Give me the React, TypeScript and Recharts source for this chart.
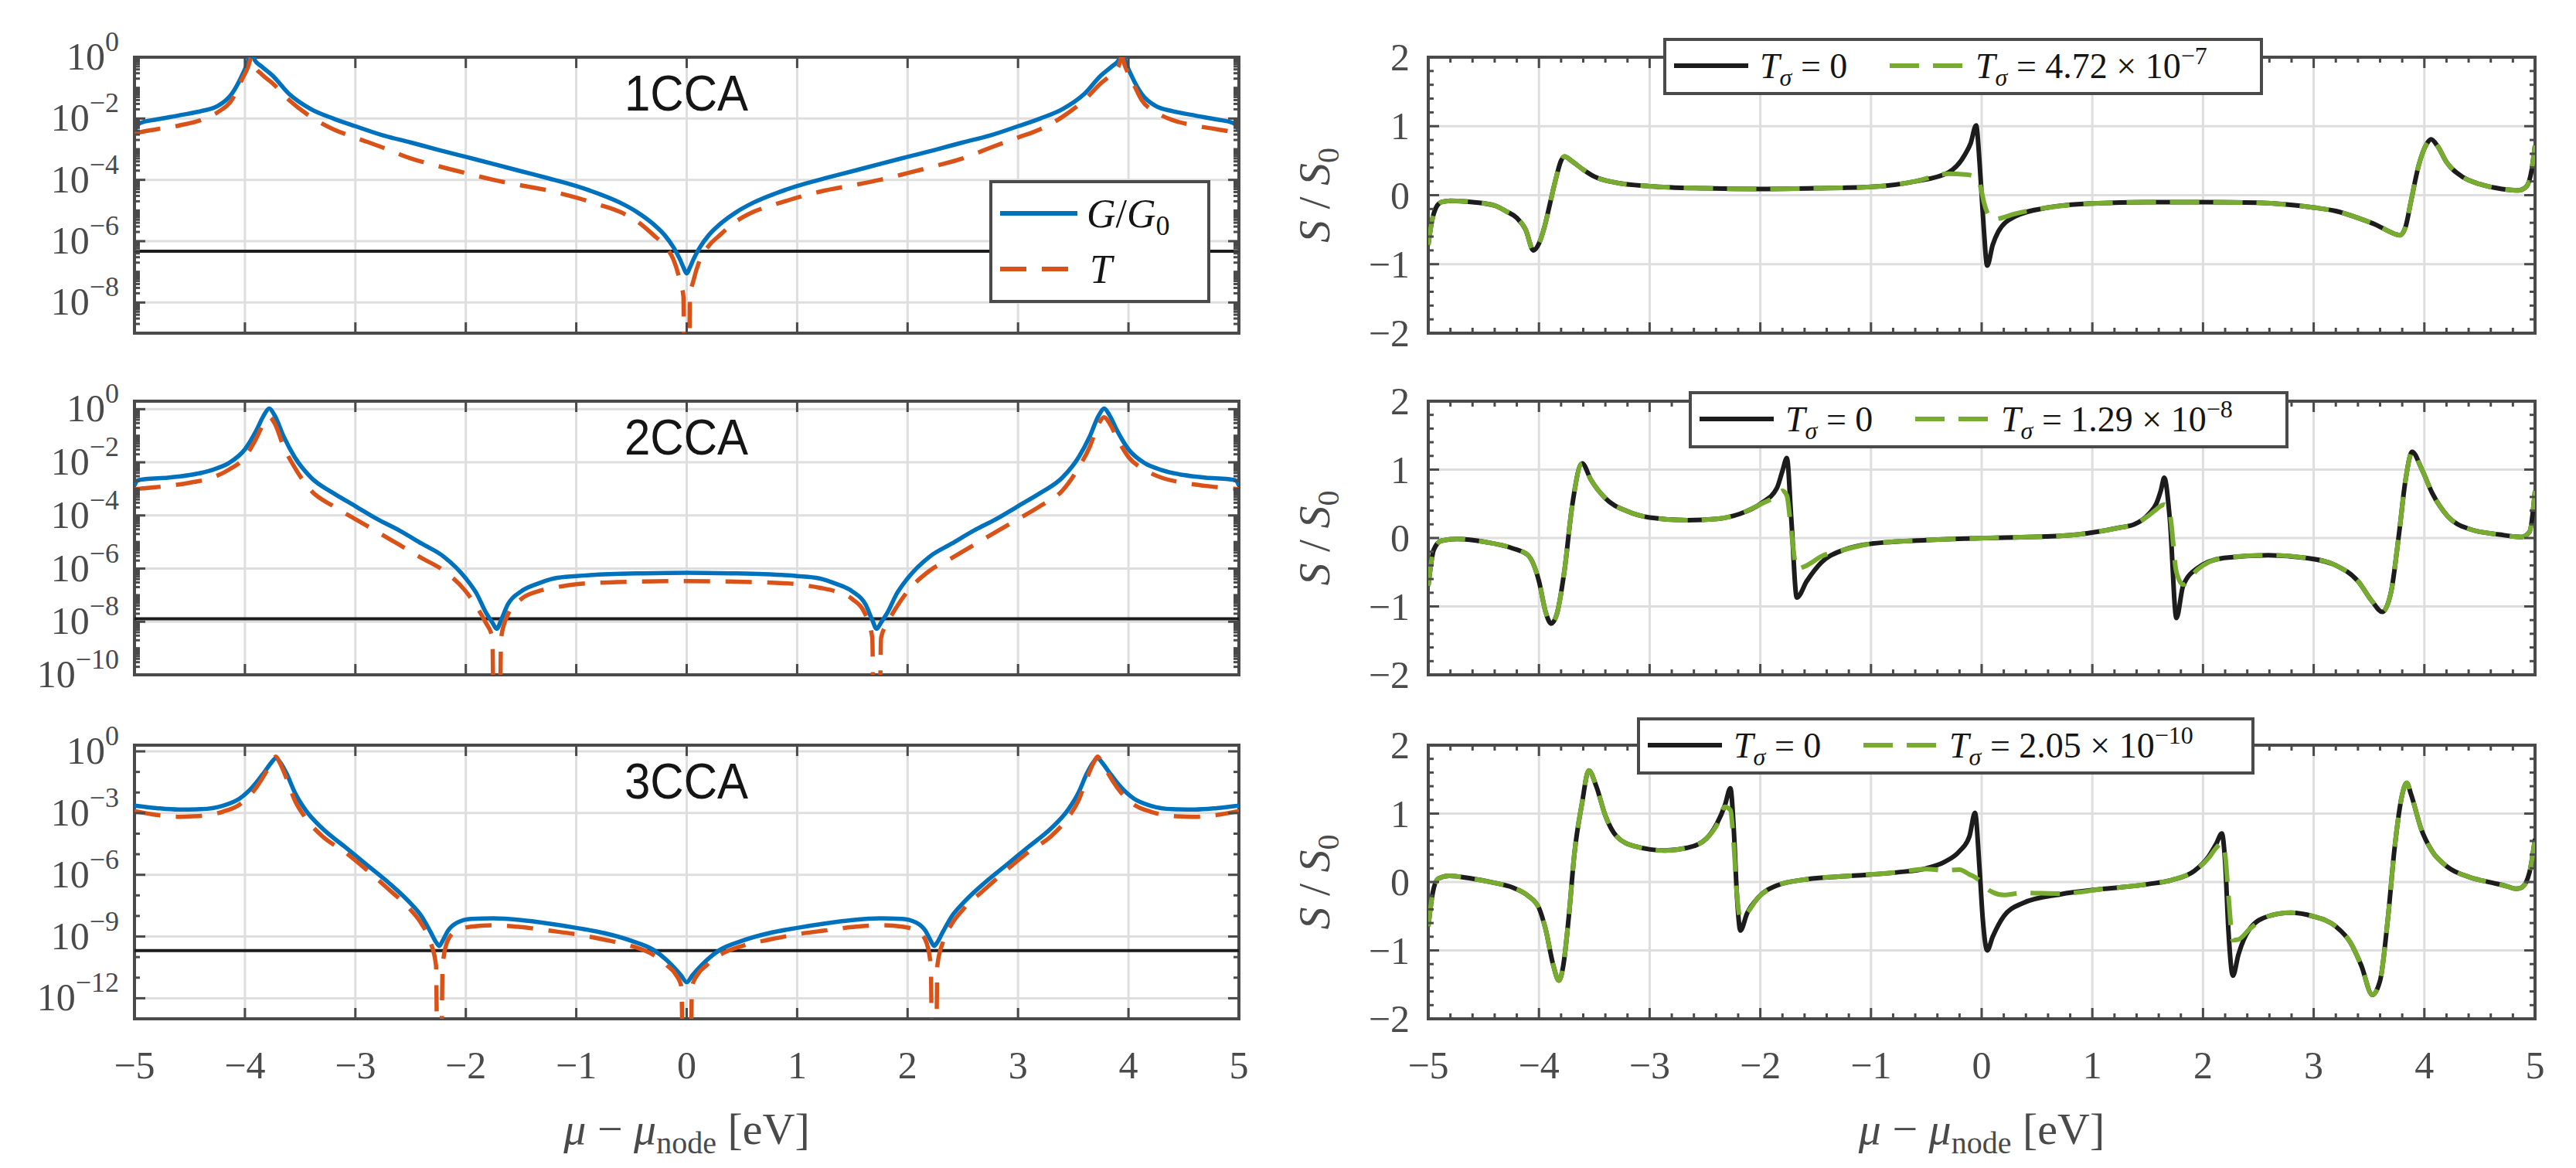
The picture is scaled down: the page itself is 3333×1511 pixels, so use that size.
import React from 'react';
import { LineChart, Line, XAxis, YAxis, CartesianGrid, ReferenceLine, ReferenceArea, Legend } from 'recharts';

// ---------------- data ----------------
const X_MAJOR = [-5, -4, -3, -2, -1, 0, 1, 2, 3, 4, 5];
const X_TICK_LABELS = ['\u22125', '\u22124', '\u22123', '\u22122', '\u22121', '0', '1', '2', '3', '4', '5'];
const S_MAJOR = [-2, -1, 0, 1, 2];
const S_TICK_LABELS = ['\u22122', '\u22121', '0', '1', '2'];

// row 1 : 1CCA
const x1 = [-5, -4.95, -4.8, -4.6, -4.4, -4.25, -4.12, -4.03, -3.97, -3.94, -3.91, -3.85, -3.75, -3.6, -3.4, -3.2, -3, -2.75, -2.5, -2.25, -2, -1.75, -1.5, -1.25, -1, -0.8, -0.6, -0.45, -0.3, -0.2, -0.12, -0.06, -0.03,
  0,
  0.03, 0.06, 0.12, 0.2, 0.3, 0.45, 0.6, 0.8, 1, 1.25, 1.5, 1.75, 2, 2.25, 2.5, 2.75, 3, 3.2, 3.4, 3.6, 3.75, 3.85, 3.91, 3.94, 3.97, 4.03, 4.12, 4.25, 4.4, 4.6, 4.8, 4.95, 5];
const g1 = [3.98e-3, 7.08e-3, 9.33e-3, 1.26e-2, 1.74e-2, 2.51e-2, 6.31e-2, 0.24, 0.794, 2.24, 0.794, 0.501, 0.251, 6.31e-2, 2.0e-2, 1.0e-2, 5.62e-3, 2.82e-3, 1.66e-3, 9.55e-4, 5.62e-4, 3.31e-4, 1.91e-4, 1.12e-4, 6.31e-5, 3.55e-5, 1.78e-5, 8.91e-6, 3.55e-6, 1.58e-6, 6.31e-7, 2.51e-7, 1.41e-7,
  8.91e-8,
  1.41e-7, 2.51e-7, 6.31e-7, 1.58e-6, 3.55e-6, 8.91e-6, 1.78e-5, 3.55e-5, 6.31e-5, 1.12e-4, 1.91e-4, 3.31e-4, 5.62e-4, 9.55e-4, 1.66e-3, 2.82e-3, 5.62e-3, 1.0e-2, 2.0e-2, 6.31e-2, 0.251, 0.501, 0.794, 2.24, 0.794, 0.24, 6.31e-2, 2.51e-2, 1.74e-2, 1.26e-2, 9.33e-3, 7.08e-3, 3.98e-3];
const t1 = [3.16e-3, 3.55e-3, 4.47e-3, 5.89e-3, 8.91e-3, 1.58e-2, 3.98e-2, 0.178, 0.501, 1.0, 0.501, 0.282, 0.141, 3.98e-2, 1.12e-2, 4.47e-3, 2.4e-3, 1.12e-3, 5.01e-4, 2.82e-4, 1.66e-4, 1.0e-4, 6.61e-5, 4.47e-5, 2.63e-5, 1.58e-5, 8.91e-6, 4.47e-6, 1.58e-6, 7.08e-7, 2.51e-7, 5.01e-8, 1.58e-8,
  1e-30,
  1.58e-8, 5.01e-8, 2.51e-7, 7.08e-7, 1.58e-6, 4.47e-6, 8.91e-6, 1.58e-5, 2.63e-5, 4.47e-5, 6.61e-5, 1.0e-4, 1.66e-4, 2.82e-4, 5.01e-4, 1.12e-3, 2.4e-3, 4.47e-3, 1.12e-2, 3.98e-2, 0.141, 0.282, 0.501, 1.0, 0.501, 0.178, 3.98e-2, 1.58e-2, 8.91e-3, 5.89e-3, 4.47e-3, 3.55e-3, 3.16e-3];

// row 2 : 2CCA
const x2 = [-5, -4.97, -4.9, -4.7, -4.5, -4.3, -4.15, -4.0, -3.9, -3.83, -3.78, -3.73, -3.65, -3.55, -3.4, -3.2, -3.0, -2.8, -2.6, -2.4, -2.2, -2.0, -1.9, -1.82, -1.76, -1.72, -1.68, -1.62, -1.5, -1.35, -1.2, -1.0, -0.7, -0.4,
  0,
  0.4, 0.7, 1.0, 1.2, 1.35, 1.5, 1.62, 1.68, 1.72, 1.76, 1.82, 1.9, 2.0, 2.2, 2.4, 2.6, 2.8, 3.0, 3.2, 3.4, 3.55, 3.65, 3.73, 3.78, 3.83, 3.9, 4.0, 4.15, 4.3, 4.5, 4.7, 4.9, 4.97, 5];
const g2 = [1.35e-3, 2.09e-3, 2.34e-3, 2.63e-3, 3.31e-3, 5.13e-3, 9.12e-3, 3.09e-2, 0.148, 0.575, 1.05, 0.575, 9.55e-2, 1.58e-2, 2.63e-3, 6.92e-4, 2.24e-4, 7.24e-5, 2.69e-5, 8.71e-6, 2.82e-6, 4.27e-7, 1.1e-7, 2.29e-8, 9.33e-9, 5.37e-9, 1.17e-8, 4.47e-8, 1.38e-7, 2.69e-7, 4.27e-7, 5.25e-7, 6.17e-7, 6.61e-7,
  6.92e-7,
  6.61e-7, 6.17e-7, 5.25e-7, 4.27e-7, 2.69e-7, 1.38e-7, 4.47e-8, 1.17e-8, 5.37e-9, 9.33e-9, 2.29e-8, 1.1e-7, 4.27e-7, 2.82e-6, 8.71e-6, 2.69e-5, 7.24e-5, 2.24e-4, 6.92e-4, 2.63e-3, 1.58e-2, 9.55e-2, 0.575, 1.05, 0.575, 0.148, 3.09e-2, 9.12e-3, 5.13e-3, 3.31e-3, 2.63e-3, 2.34e-3, 2.09e-3, 1.35e-3];
const t2 = [9.55e-4, 1.0e-3, 1.07e-3, 1.29e-3, 1.7e-3, 2.63e-3, 5.13e-3, 1.58e-2, 7.59e-2, 0.288, 0.5, 0.288, 3.89e-2, 6.46e-3, 8.51e-4, 2.24e-4, 7.24e-5, 2.4e-5, 7.76e-6, 2.51e-6, 8.32e-7, 1.38e-7, 3.55e-8, 9.33e-9, 2.51e-9, 1e-30, 2.51e-9, 1.82e-8, 7.08e-8, 1.38e-7, 1.91e-7, 2.57e-7, 3.02e-7, 3.24e-7,
  3.39e-7,
  3.24e-7, 3.02e-7, 2.57e-7, 1.91e-7, 1.38e-7, 7.08e-8, 1.82e-8, 2.51e-9, 1e-30, 2.51e-9, 9.33e-9, 3.55e-8, 1.38e-7, 8.32e-7, 2.51e-6, 7.76e-6, 2.4e-5, 7.24e-5, 2.24e-4, 8.51e-4, 6.46e-3, 3.89e-2, 0.288, 0.5, 0.288, 7.59e-2, 1.58e-2, 5.13e-3, 2.63e-3, 1.7e-3, 1.29e-3, 1.07e-3, 1.0e-3, 9.55e-4];

// row 3 : 3CCA
const x3 = [-5, -4.8, -4.6, -4.4, -4.2, -4.05, -3.92, -3.82, -3.76, -3.72, -3.68, -3.62, -3.55, -3.45, -3.3, -3.1, -2.9, -2.7, -2.5, -2.4, -2.32, -2.27, -2.24, -2.21, -2.16, -2.08, -1.95, -1.75, -1.5, -1.25, -1.0, -0.75, -0.5, -0.3, -0.18, -0.1, -0.05,
  0,
  0.05, 0.1, 0.18, 0.3, 0.5, 0.75, 1.0, 1.25, 1.5, 1.75, 1.95, 2.08, 2.16, 2.21, 2.24, 2.27, 2.32, 2.4, 2.5, 2.7, 2.9, 3.1, 3.3, 3.45, 3.55, 3.62, 3.68, 3.72, 3.76, 3.82, 3.92, 4.05, 4.2, 4.4, 4.6, 4.8, 5];
const g3 = [2.29e-3, 1.74e-3, 1.48e-3, 1.55e-3, 2.29e-3, 5.01e-3, 2.14e-2, 0.105, 0.288, 0.468, 0.288, 7.76e-2, 1.05e-2, 1.38e-3, 1.82e-4, 2.4e-5, 3.16e-6, 4.17e-7, 4.07e-8, 9.55e-9, 1.7e-9, 5.37e-10, 3.47e-10, 6.17e-10, 1.95e-9, 4.68e-9, 7.24e-9, 7.59e-9, 6.31e-9, 4.27e-9, 2.63e-9, 1.48e-9, 6.17e-10, 2.24e-10, 7.08e-11, 2.57e-11, 1.26e-11,
  6.03e-12,
  1.26e-11, 2.57e-11, 7.08e-11, 2.24e-10, 6.17e-10, 1.48e-9, 2.63e-9, 4.27e-9, 6.31e-9, 7.59e-9, 7.24e-9, 4.68e-9, 1.95e-9, 6.17e-10, 3.47e-10, 5.37e-10, 1.7e-9, 9.55e-9, 4.07e-8, 4.17e-7, 3.16e-6, 2.4e-5, 1.82e-4, 1.38e-3, 1.05e-2, 7.76e-2, 0.288, 0.468, 0.288, 0.105, 2.14e-2, 5.01e-3, 2.29e-3, 1.55e-3, 1.48e-3, 1.74e-3, 2.29e-3];
const t3 = [1.26e-3, 8.13e-4, 6.61e-4, 7.24e-4, 1.17e-3, 2.57e-3, 1.2e-2, 7.76e-2, 0.288, 0.562, 0.251, 4.37e-2, 4.37e-3, 5.75e-4, 7.59e-5, 1.35e-5, 1.78e-6, 2.0e-7, 2.0e-8, 4.07e-9, 5.37e-10, 3.98e-11, 1e-30, 3.98e-11, 7.08e-10, 1.95e-9, 3.02e-9, 3.55e-9, 2.88e-9, 1.95e-9, 1.29e-9, 7.08e-10, 3.47e-10, 1.26e-10, 3.98e-11, 1.45e-11, 3.98e-12,
  1e-30,
  3.98e-12, 1.45e-11, 3.98e-11, 1.26e-10, 3.47e-10, 7.08e-10, 1.29e-9, 1.95e-9, 2.88e-9, 3.55e-9, 3.02e-9, 1.95e-9, 7.08e-10, 3.98e-11, 1e-30, 3.98e-11, 5.37e-10, 4.07e-9, 2.0e-8, 2.0e-7, 1.78e-6, 1.35e-5, 7.59e-5, 5.75e-4, 4.37e-3, 4.37e-2, 0.251, 0.562, 0.288, 7.76e-2, 1.2e-2, 2.57e-3, 1.17e-3, 7.24e-4, 6.61e-4, 8.13e-4, 1.26e-3];

// right column: thermopower S/S0
const xr1 = [-5, -4.97, -4.93, -4.88, -4.8, -4.6, -4.4, -4.3, -4.2, -4.12, -4.05, -4.0, -3.95, -3.9, -3.85, -3.8, -3.77, -3.7, -3.6, -3.5, -3.3, -3.0, -2.5, -2.0, -1.5, -1.0, -0.6, -0.3, -0.15, -0.1, -0.05, -0.02, 0.0, 0.02, 0.05, 0.1, 0.15, 0.3, 0.6, 1.0, 1.5, 2.0, 2.5, 3.0, 3.2, 3.4, 3.55, 3.65, 3.73, 3.78, 3.83, 3.88, 3.95, 4.02, 4.06, 4.12, 4.2, 4.35, 4.5, 4.7, 4.85, 4.92, 4.97, 5.0];
const s0r1 = [-0.72, -0.4, -0.18, -0.1, -0.08, -0.1, -0.15, -0.23, -0.33, -0.5, -0.8, -0.7, -0.46, -0.12, 0.22, 0.5, 0.56, 0.49, 0.37, 0.27, 0.18, 0.13, 0.1, 0.09, 0.1, 0.12, 0.2, 0.33, 0.59, 0.75, 1.01, 0.5, 0.0, -0.5, -1.02, -0.72, -0.53, -0.31, -0.18, -0.12, -0.1, -0.1, -0.11, -0.18, -0.23, -0.33, -0.42, -0.5, -0.56, -0.58, -0.46, -0.08, 0.44, 0.74, 0.81, 0.71, 0.48, 0.26, 0.16, 0.09, 0.07, 0.12, 0.37, 0.72];
const ssr1 = [-0.72, -0.4, -0.18, -0.1, -0.08, -0.1, -0.15, -0.23, -0.33, -0.5, -0.8, -0.7, -0.46, -0.12, 0.22, 0.5, 0.56, 0.49, 0.37, 0.27, 0.18, 0.13, 0.1, 0.09, 0.1, 0.12, 0.2, 0.31, 0.3, 0.29, 0.26, 0.18, 0.05, -0.1, -0.25, -0.35, -0.34, -0.27, -0.18, -0.12, -0.1, -0.1, -0.11, -0.18, -0.23, -0.33, -0.42, -0.5, -0.56, -0.58, -0.46, -0.08, 0.44, 0.74, 0.81, 0.71, 0.48, 0.26, 0.16, 0.09, 0.07, 0.12, 0.37, 0.72];

const xr2 = [-5, -4.95, -4.88, -4.74, -4.48, -4.24, -4.1, -4.0, -3.94, -3.89, -3.84, -3.77, -3.7, -3.61, -3.53, -3.4, -3.2, -3.0, -2.66, -2.39, -2.19, -1.99, -1.85, -1.8, -1.76, -1.72, -1.67, -1.58, -1.45, -1.24, -0.98, -0.5, 0.03, 0.71, 1.04, 1.24, 1.38, 1.51, 1.58, 1.62, 1.65, 1.7, 1.76, 1.82, 1.95, 2.19, 2.59, 2.93, 3.2, 3.4, 3.53, 3.62, 3.7, 3.77, 3.83, 3.89, 3.97, 4.07, 4.21, 4.41, 4.68, 4.88, 4.95, 5];
const s0r2 = [-0.7, -0.17, -0.04, -0.015, -0.06, -0.15, -0.25, -0.63, -1.08, -1.25, -1.12, -0.48, 0.47, 1.09, 0.85, 0.58, 0.39, 0.3, 0.26, 0.28, 0.35, 0.51, 0.73, 0.98, 1.17, 0.28, -0.87, -0.63, -0.36, -0.17, -0.08, -0.03, 0.0, 0.03, 0.09, 0.15, 0.2, 0.35, 0.51, 0.7, 0.88, 0.28, -1.17, -0.7, -0.44, -0.29, -0.25, -0.29, -0.4, -0.63, -0.93, -1.08, -0.78, 0.05, 0.85, 1.26, 1.03, 0.66, 0.32, 0.13, 0.05, 0.015, 0.09, 0.69];
const ssr2 = [-0.7, -0.17, -0.04, -0.015, -0.06, -0.15, -0.25, -0.63, -1.08, -1.25, -1.12, -0.48, 0.47, 1.09, 0.85, 0.58, 0.39, 0.3, 0.26, 0.28, 0.35, 0.5, 0.62, 0.69, 0.62, 0.1, -0.45, -0.4, -0.27, -0.17, -0.08, -0.03, 0.0, 0.03, 0.09, 0.15, 0.2, 0.33, 0.42, 0.47, 0.49, 0.35, -0.5, -0.68, -0.46, -0.29, -0.25, -0.29, -0.4, -0.63, -0.93, -1.08, -0.78, 0.05, 0.85, 1.26, 1.03, 0.66, 0.32, 0.13, 0.05, 0.015, 0.09, 0.69];

const xr3 = [-5, -4.96, -4.91, -4.81, -4.61, -4.41, -4.24, -4.1, -4.0, -3.94, -3.87, -3.82, -3.78, -3.73, -3.68, -3.61, -3.55, -3.48, -3.4, -3.3, -3.13, -2.86, -2.66, -2.49, -2.39, -2.32, -2.27, -2.24, -2.21, -2.18, -2.12, -2.02, -1.85, -1.58, -1.18, -0.77, -0.5, -0.34, -0.2, -0.11, -0.06, -0.02, 0.01, 0.05, 0.1, 0.2, 0.37, 0.71, 1.11, 1.51, 1.72, 1.92, 2.05, 2.12, 2.17, 2.2, 2.23, 2.27, 2.32, 2.42, 2.59, 2.79, 2.99, 3.2, 3.33, 3.43, 3.53, 3.6, 3.67, 3.73, 3.8, 3.84, 3.88, 3.97, 4.07, 4.21, 4.41, 4.61, 4.74, 4.83, 4.88, 4.95, 5];
const s0r3 = [-0.65, -0.16, 0.05, 0.09, 0.05, -0.01, -0.08, -0.2, -0.38, -0.69, -1.22, -1.44, -1.22, -0.5, 0.41, 1.16, 1.63, 1.39, 0.97, 0.67, 0.52, 0.46, 0.5, 0.63, 0.86, 1.12, 1.37, 0.78, -0.23, -0.71, -0.46, -0.23, -0.05, 0.04, 0.09, 0.14, 0.2, 0.29, 0.45, 0.67, 1.01, 0.22, -0.54, -1.0, -0.8, -0.5, -0.31, -0.18, -0.1, -0.03, 0.03, 0.16, 0.37, 0.56, 0.71, 0.29, -0.72, -1.37, -1.06, -0.69, -0.5, -0.45, -0.5, -0.65, -0.88, -1.22, -1.65, -1.44, -0.54, 0.48, 1.28, 1.45, 1.28, 0.78, 0.45, 0.22, 0.07, -0.01, -0.06, -0.1, -0.08, 0.14, 0.63];
const ssr3 = [-0.65, -0.16, 0.05, 0.09, 0.05, -0.01, -0.08, -0.2, -0.38, -0.69, -1.22, -1.44, -1.22, -0.5, 0.41, 1.16, 1.63, 1.39, 0.97, 0.67, 0.52, 0.46, 0.5, 0.63, 0.84, 1.1, 1.05, 0.55, -0.2, -0.53, -0.45, -0.23, -0.05, 0.04, 0.09, 0.14, 0.19, 0.17, 0.18, 0.11, 0.07, 0.02, -0.04, -0.1, -0.15, -0.19, -0.16, -0.17, -0.1, -0.03, 0.03, 0.16, 0.35, 0.5, 0.57, 0.4, -0.2, -0.85, -0.84, -0.69, -0.5, -0.45, -0.5, -0.65, -0.88, -1.22, -1.65, -1.44, -0.54, 0.48, 1.28, 1.45, 1.28, 0.78, 0.45, 0.22, 0.07, -0.01, -0.06, -0.1, -0.08, 0.14, 0.63];

const TSIG_VALUES = [4.72e-7, 1.29e-8, 2.05e-10];
const TSIG_MANTISSA = ['4.72', '1.29', '2.05'];
const TSIG_EXP = ['\u22127', '\u22128', '\u221210'];
const PANEL_NAMES = ['1CCA', '2CCA', '3CCA'];

const LOG_MAJORS = [
  [1e-8, 1e-6, 1e-4, 1e-2, 1],
  [1e-10, 1e-8, 1e-6, 1e-4, 1e-2, 1],
  [1e-12, 1e-9, 1e-6, 1e-3, 1],
];
const LOG_EXPS = [
  ['\u22128', '\u22126', '\u22124', '\u22122', '0'],
  ['\u221210', '\u22128', '\u22126', '\u22124', '\u22122', '0'],
  ['\u221212', '\u22129', '\u22126', '\u22123', '0'],
];
const LOG_DOMAINS = [[1e-9, 1], [1e-10, 2], [1e-13, 2]];

// ---------------- style / layout ----------------
const SERIF = '"Liberation Serif", "DejaVu Serif", serif';
const SANS = '"Liberation Sans", "DejaVu Sans", sans-serif';
const AXIS = '#4a4a4a';
const GRID = '#dedede';
const BLUE = '#0072BD';
const ORANGE = '#D95319';
const BLACK = '#1c1c1c';
const GREEN = '#77AC30';
const TXT = '#151515';

const LEFT_X0 = 174, LEFT_W = 1429;
const RIGHT_CHART_LEFT = 1598, RIGHT_YAXIS_W = 250, RIGHT_W = 1432;
const ROW_TOPS = [74, 519, 964];
const ROW_H = [357, 354, 354];
const PAD_TOP = 70, PAD_RIGHT = 30;
const TICK_MAJOR = 14, TICK_MINOR = 7;
const TICK_FONT = 50, SUP_FONT = 36;

const RIGHT_LEGEND_POS = [[2152, 49, 776], [2185, 506, 776], [2118, 928, 799]];
const LEFT_LEGEND_POS = [1280, 233];

function logMinors(lo: number, hi: number, majors: number[], full: boolean) {
  const out: number[] = [];
  for (let n = Math.floor(Math.log10(lo)); n <= Math.ceil(Math.log10(hi)); n++) {
    const ks = full ? [1, 2, 3, 4, 5, 6, 7, 8, 9] : [1];
    for (const k of ks) {
      const v = k * Math.pow(10, n);
      if (v <= lo * 1.0001 || v >= hi * 0.9999) continue;
      if (majors.some((m) => Math.abs(m - v) / m < 1e-6)) continue;
      out.push(v);
    }
  }
  return out;
}
function linTicks(lo: number, hi: number) {
  const out: number[] = [];
  for (let i = Math.round(lo * 5); i <= Math.round(hi * 5); i++) out.push(i / 5);
  return out;
}

const makeXTick = (labels: string[] | null, plotH: number, withMinor: boolean) => (props: any) => {
  const { x, y, payload } = props;
  const v = payload.value;
  const mi = X_MAJOR.findIndex((m) => Math.abs(m - v) < 1e-9);
  if (mi < 0 && !withMinor) return <g />;
  const len = mi >= 0 ? TICK_MAJOR : TICK_MINOR;
  return (
    <g>
      <line x1={x} y1={y} x2={x} y2={y - len} stroke={AXIS} strokeWidth={3} />
      <line x1={x} y1={y - plotH} x2={x} y2={y - plotH + len} stroke={AXIS} strokeWidth={3} />
      {labels && mi >= 0 ? (
        <text x={x} y={y + 77} textAnchor="middle" fontFamily={SERIF} fontSize={TICK_FONT} fill={AXIS}>
          {labels[mi]}
        </text>
      ) : null}
    </g>
  );
};

const makeLogYTick = (majors: number[], exps: string[], plotW: number) => (props: any) => {
  const { x, y, payload } = props;
  const v = payload.value;
  const mi = majors.findIndex((m) => Math.abs(m - v) / m < 1e-6);
  const len = mi >= 0 ? TICK_MAJOR : TICK_MINOR;
  return (
    <g>
      <line x1={x} y1={y} x2={x + len} y2={y} stroke={AXIS} strokeWidth={3} />
      <line x1={x + plotW} y1={y} x2={x + plotW - len} y2={y} stroke={AXIS} strokeWidth={3} />
      {mi >= 0 ? (
        <text x={x - 20} y={y + 16} textAnchor="end" fontFamily={SERIF} fontSize={TICK_FONT} fill={AXIS}>
          10
          <tspan dy={-24} fontSize={SUP_FONT}>{exps[mi]}</tspan>
        </text>
      ) : null}
    </g>
  );
};

const makeLinYTick = (plotW: number) => (props: any) => {
  const { x, y, payload } = props;
  const v = payload.value;
  const mi = S_MAJOR.findIndex((m) => Math.abs(m - v) < 1e-9);
  const len = mi >= 0 ? TICK_MAJOR : TICK_MINOR;
  return (
    <g>
      <line x1={x} y1={y} x2={x + len} y2={y} stroke={AXIS} strokeWidth={3} />
      <line x1={x + plotW} y1={y} x2={x + plotW - len} y2={y} stroke={AXIS} strokeWidth={3} />
      {mi >= 0 ? (
        <text x={x - 24} y={y + 17} textAnchor="end" fontFamily={SERIF} fontSize={TICK_FONT} fill={AXIS}>
          {S_TICK_LABELS[mi]}
        </text>
      ) : null}
    </g>
  );
};

const xLabel = (props: any) => {
  const vb = props.viewBox || { x: 0, y: 0, width: 0, height: 0 };
  const cx = vb.x + vb.width / 2;
  const y = vb.y + 162;
  return (
    <text x={cx} y={y} textAnchor="middle" fontFamily={SERIF} fontSize={58} fill={AXIS}>
      <tspan fontStyle="italic">μ</tspan>
      <tspan> − </tspan>
      <tspan fontStyle="italic">μ</tspan>
      <tspan fontSize={40} dy={12}>node</tspan>
      <tspan dy={-12}> [eV]</tspan>
    </text>
  );
};

const yLabel = (props: any) => {
  const vb = props.viewBox || { x: 0, y: 0, width: 0, height: 0 };
  const cx = vb.x + 102;
  const cy = vb.y + vb.height / 2;
  return (
    <text x={cx} y={cy + 20} transform={`rotate(-90 ${cx} ${cy})`} textAnchor="middle" fontFamily={SERIF} fontSize={58} fill={AXIS}>
      <tspan fontStyle="italic">S</tspan>
      <tspan> / </tspan>
      <tspan fontStyle="italic">S</tspan>
      <tspan fontSize={40} dy={12}>0</tspan>
    </text>
  );
};

const LeftLegendBox = () => (
  <div style={{ width: 286, height: 159, boxSizing: 'border-box', border: `4px solid ${AXIS}`, background: '#fff' }}>
    <svg width={278} height={151} style={{ display: 'block', overflow: 'visible' }}>
      <line x1={10} x2={110} y1={39} y2={39} stroke={BLUE} strokeWidth={6} />
      <text x={122} y={57} fontFamily={SERIF} fontSize={52} fill={TXT}>
        <tspan fontStyle="italic">G</tspan>
        <tspan>/</tspan>
        <tspan fontStyle="italic">G</tspan>
        <tspan fontSize={36} dy={10}>0</tspan>
      </text>
      <line x1={10} x2={110} y1={111} y2={111} stroke={ORANGE} strokeWidth={6} strokeDasharray="34 20" />
      <text x={126} y={129} fontFamily={SERIF} fontSize={52} fill={TXT} fontStyle="italic">T</text>
    </svg>
  </div>
);

const RightLegendBox = ({ width, mant, exp }: any) => (
  <div style={{ width, height: 74, boxSizing: 'border-box', border: `4px solid ${AXIS}`, background: '#fff' }}>
    <svg width={width - 8} height={66} style={{ display: 'block', overflow: 'visible' }}>
      <line x1={10} x2={106} y1={32} y2={32} stroke={BLACK} strokeWidth={6} />
      <text x={121} y={48} fontFamily={SERIF} fontSize={46} fill={TXT}>
        <tspan fontStyle="italic">T</tspan>
        <tspan fontStyle="italic" fontSize={32} dy={10}>σ</tspan>
        <tspan dy={-10}> = 0</tspan>
      </text>
      <line x1={289} x2={386} y1={32} y2={32} stroke={GREEN} strokeWidth={6} strokeDasharray="38 18" />
      <text x={400} y={48} fontFamily={SERIF} fontSize={46} fill={TXT}>
        <tspan fontStyle="italic">T</tspan>
        <tspan fontStyle="italic" fontSize={32} dy={10}>σ</tspan>
        <tspan dy={-10}>{` = ${mant} × 10`}</tspan>
        <tspan fontSize={32} dy={-18}>{exp}</tspan>
      </text>
    </svg>
  </div>
);

function LeftPanel({ row, xs, gv, tv }: any) {
  const top = ROW_TOPS[row];
  const plotH = ROW_H[row];
  const bottom = row === 2;
  const xAxisH = bottom ? 190 : 45;
  const width = LEFT_X0 + LEFT_W + PAD_RIGHT;
  const height = PAD_TOP + plotH + xAxisH;
  const data = xs.map((x: number, i: number) => ({ x, g: gv[i], t: tv[i] }));
  const majors = LOG_MAJORS[row];
  const domain = LOG_DOMAINS[row];
  const minors = logMinors(domain[0], domain[1], majors, row !== 2);
  const yTicks = [...majors, ...minors].sort((a, b) => a - b);
  return (
    <div style={{ position: 'absolute', left: 0, top: top - PAD_TOP, width, height }}>
      <LineChart width={width} height={height} data={data} margin={{ top: PAD_TOP, right: PAD_RIGHT, bottom: 0, left: 0 }}>
        <CartesianGrid horizontalValues={majors} verticalValues={X_MAJOR} stroke={GRID} strokeWidth={3} />
        <XAxis
          type="number"
          dataKey="x"
          domain={[-5, 5]}
          ticks={X_MAJOR}
          interval={0}
          allowDataOverflow
          axisLine={false}
          tickLine={false}
          tickSize={0}
          tickMargin={0}
          height={xAxisH}
          tick={makeXTick(bottom ? X_TICK_LABELS : null, plotH, false)}
          label={bottom ? xLabel : undefined}
        />
        <YAxis
          type="number"
          scale="log"
          domain={domain}
          ticks={yTicks}
          interval={0}
          allowDataOverflow
          axisLine={false}
          tickLine={false}
          tickSize={0}
          tickMargin={0}
          width={LEFT_X0}
          tick={makeLogYTick(majors, LOG_EXPS[row], LEFT_W)}
        />
        <ReferenceLine y={TSIG_VALUES[row]} stroke={BLACK} strokeWidth={4} />
        <Line type="monotone" dataKey="g" stroke={BLUE} strokeWidth={5.5} dot={false} activeDot={false} isAnimationActive={false} />
        <Line type="monotone" dataKey="t" stroke={ORANGE} strokeWidth={5.5} strokeDasharray="34 20" dot={false} activeDot={false} isAnimationActive={false} />
        <ReferenceArea x1={-5} x2={5} y1={domain[0]} y2={domain[1]} fill="none" fillOpacity={0} stroke={AXIS} strokeWidth={4} />
        {row === 0 ? (
          <Legend
            layout="horizontal"
            verticalAlign="middle"
            align="center"
            content={() => <LeftLegendBox />}
            wrapperStyle={{ left: LEFT_LEGEND_POS[0], top: LEFT_LEGEND_POS[1] - (top - PAD_TOP), width: 286, height: 159 }}
          />
        ) : null}
      </LineChart>
      <svg width={width} height={height} style={{ position: 'absolute', left: 0, top: 0, pointerEvents: 'none' }}>
        <text x={888} y={PAD_TOP + 69} textAnchor="middle" fontFamily={SANS} fontSize={64} fill={TXT} textLength={160} lengthAdjust="spacingAndGlyphs">
          {PANEL_NAMES[row]}
        </text>
      </svg>
    </div>
  );
}

function RightPanel({ row, xs, s0, ss }: any) {
  const top = ROW_TOPS[row];
  const plotH = ROW_H[row];
  const bottom = row === 2;
  const xAxisH = bottom ? 190 : 45;
  const width = RIGHT_YAXIS_W + RIGHT_W + PAD_RIGHT;
  const height = PAD_TOP + plotH + xAxisH;
  const data = xs.map((x: number, i: number) => ({ x, a: s0[i], b: ss[i] }));
  const chartTop = top - PAD_TOP;
  const [lx, ly, lw] = RIGHT_LEGEND_POS[row];
  return (
    <div style={{ position: 'absolute', left: RIGHT_CHART_LEFT, top: chartTop, width, height }}>
      <LineChart width={width} height={height} data={data} margin={{ top: PAD_TOP, right: PAD_RIGHT, bottom: 0, left: 0 }}>
        <CartesianGrid horizontalValues={S_MAJOR} verticalValues={X_MAJOR} stroke={GRID} strokeWidth={3} />
        <XAxis
          type="number"
          dataKey="x"
          domain={[-5, 5]}
          ticks={linTicks(-5, 5)}
          interval={0}
          allowDataOverflow
          axisLine={false}
          tickLine={false}
          tickSize={0}
          tickMargin={0}
          height={xAxisH}
          tick={makeXTick(bottom ? X_TICK_LABELS : null, plotH, true)}
          label={bottom ? xLabel : undefined}
        />
        <YAxis
          type="number"
          domain={[-2, 2]}
          ticks={linTicks(-2, 2)}
          interval={0}
          allowDataOverflow
          axisLine={false}
          tickLine={false}
          tickSize={0}
          tickMargin={0}
          width={RIGHT_YAXIS_W}
          tick={makeLinYTick(RIGHT_W)}
          label={yLabel}
        />
        <Line type="monotone" dataKey="a" stroke={BLACK} strokeWidth={6} dot={false} activeDot={false} isAnimationActive={false} />
        <Line type="monotone" dataKey="b" stroke={GREEN} strokeWidth={6} strokeDasharray="38 18" dot={false} activeDot={false} isAnimationActive={false} />
        <ReferenceArea x1={-5} x2={5} y1={-2} y2={2} fill="none" fillOpacity={0} stroke={AXIS} strokeWidth={4} />
        <Legend
          layout="horizontal"
          verticalAlign="middle"
          align="center"
          content={() => <RightLegendBox width={lw} mant={TSIG_MANTISSA[row]} exp={TSIG_EXP[row]} />}
          wrapperStyle={{ left: lx - RIGHT_CHART_LEFT, top: ly - chartTop, width: lw, height: 74 }}
        />
      </LineChart>
    </div>
  );
}

export default function App() {
  return (
    <div style={{ position: 'absolute', left: 0, top: 0, width: 3333, height: 1511, background: '#fff', overflow: 'hidden' }}>
      <LeftPanel row={0} xs={x1} gv={g1} tv={t1} />
      <LeftPanel row={1} xs={x2} gv={g2} tv={t2} />
      <LeftPanel row={2} xs={x3} gv={g3} tv={t3} />
      <RightPanel row={0} xs={xr1} s0={s0r1} ss={ssr1} />
      <RightPanel row={1} xs={xr2} s0={s0r2} ss={ssr2} />
      <RightPanel row={2} xs={xr3} s0={s0r3} ss={ssr3} />
    </div>
  );
}
